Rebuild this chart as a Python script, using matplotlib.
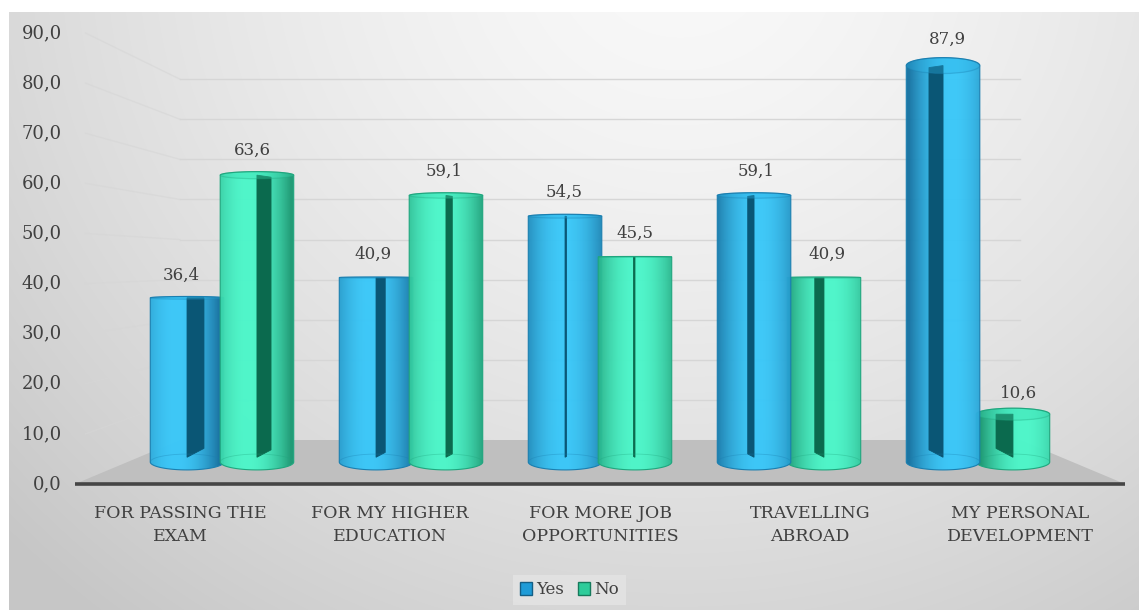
import numpy as np
import matplotlib
matplotlib.use('Agg')
import matplotlib.pyplot as plt
from matplotlib.patches import Polygon, Ellipse, Patch
from matplotlib.colors import to_rgb

# dados
categories = ['FOR PASSING THE\nEXAM', 'FOR MY HIGHER\nEDUCATION', 'FOR MORE JOB\nOPPORTUNITIES',
              'TRAVELLING\nABROAD', 'MY PERSONAL\nDEVELOPMENT']
yes = [36.4, 40.9, 54.5, 59.1, 87.9]
no = [63.6, 59.1, 45.5, 40.9, 10.6]
yticks = [0, 10, 20, 30, 40, 50, 60, 70, 80, 90]

plt.rcParams['font.family'] = ['DejaVu Serif']
TXT = '#404040'

# perspectiva simples
XV, YV = 2.5, 43.9      # ponto de fuga
D_BAR, D_BACK, D_LAB = 0.9, 0.8, 0.912
C = 0.04                # achatamento das elipses


def px(x, d):
    return XV + (x - XV) * d


def py(v, d):
    return YV + (v - YV) * d


fig = plt.figure(figsize=(11.39, 6.10), dpi=100)
ax = fig.add_axes([0, 0, 1, 1])
xlim = (-75 / 210, 1064 / 210)
ylim = (-126 / 5.011, 484 / 5.011)
ax.set_xlim(xlim)
ax.set_ylim(ylim)
ax.axis('off')

# fundo em degrade
H, W = 610, 1139
yy, xx = np.mgrid[0:H, 0:W]
r = np.sqrt(((xx - 680) / 700.0) ** 2 + ((yy + 50) / 650.0) ** 2)
g = np.clip(0.975 - 0.13 * r ** 1.5, 0.78, 1)
g[:12, :] = 1
g[:, :9] = 1
ax.imshow(np.dstack([g, g, g]), extent=(xlim[0], xlim[1], ylim[0], ylim[1]),
          aspect='auto', zorder=0, interpolation='bilinear')

# chao
floor = Polygon([(0, 0), (5, 0), (px(5, D_BACK), py(0, D_BACK)), (px(0, D_BACK), py(0, D_BACK))],
                closed=True, facecolor='#BFBFBF', edgecolor='none', zorder=1)
ax.add_patch(floor)

# grades
for t in yticks[1:]:
    yb = py(t, D_BACK)
    ax.plot([px(0, D_BACK), px(5, D_BACK)], [yb, yb], color='#D6D6D6', lw=1.0, zorder=1)
    ax.plot([px(0, D_BACK), 0.05], [yb, t], color='#D6D6D6', lw=1.0, alpha=0.6, zorder=1)

ax.plot([0, 5], [0, 0], color='#454545', lw=2.6, zorder=2, solid_capstyle='butt')

for t in yticks:
    ax.text(-0.062, t, f'{t:.1f}'.replace('.', ','), ha='right', va='center',
            fontsize=13, color=TXT)

for i, c in enumerate(categories):
    ax.text(i + 0.5, -4.1, c, ha='center', va='top', fontsize=12.5, color=TXT,
            linespacing=1.5)

BLUE = dict(light='#3AC8F9', dark='#1673A3', strip='#0A5675', edge='#1A7FB0', cap='#2DB3E6')
GREEN = dict(light='#4CF7CA', dark='#1C9A74', strip='#0B6A4E', edge='#1FA67E', cap='#3CDDB2')


def cylinder(xpre, val, pal, z):
    cx = px(xpre, D_BAR)
    dx = cx - XV
    w = 0.175
    y0 = py(0, D_BAR)
    y1 = py(val, D_BAR)
    b0 = C * abs(YV - y0)
    b1 = C * abs(YV - y1)
    t1 = np.linspace(np.pi, 2 * np.pi, 60)
    t2 = np.linspace(0, np.pi, 60)
    vx = np.concatenate([cx + w * np.cos(t1), cx + w * np.cos(t2)])
    vy = np.concatenate([y0 + b0 * np.sin(t1), y1 + b1 * np.sin(t2)])
    body = Polygon(np.column_stack([vx, vy]), closed=True, facecolor='none',
                   edgecolor=pal['edge'], lw=0.8, zorder=z + 0.3)
    ax.add_patch(body)

    # degrade horizontal
    tt = np.linspace(0, 1, 120)
    tp = 0.5 + 0.08 * dx
    gg = np.clip(1 - ((tt - tp) / 0.75) ** 2 * 1.6, 0, 1)
    lo, hi = np.array(to_rgb(pal['dark'])), np.array(to_rgb(pal['light']))
    img = lo[None, :] + (hi - lo)[None, :] * gg[:, None]
    im = ax.imshow(img[None, :, :], extent=(cx - w, cx + w, y0 - b0, y1 + b1),
                   aspect='auto', zorder=z, interpolation='bilinear', alpha=0.97)
    clip = Polygon(np.column_stack([vx, vy]), closed=True, transform=ax.transData)
    im.set_clip_path(clip)

    # faixa escura interna
    sw = -0.041 * dx
    xo = cx + sw
    yb_in = y0 + 0.6 * b0
    yb_out = yb_in + 22 * abs(sw)
    yt_out = y1 - (6 * abs(sw) if y1 > YV else 0)
    ax.add_patch(Polygon([(cx, y1), (xo, yt_out), (xo, yb_out), (cx, yb_in)], closed=True,
                         facecolor=pal['strip'], edgecolor=pal['strip'], lw=0.6,
                         zorder=z + 0.1))

    # tampa e base
    ax.add_patch(Ellipse((cx, y1), 2 * w, 2 * b1, facecolor=pal['cap'], alpha=0.35,
                         edgecolor=pal['edge'], lw=0.9, zorder=z + 0.2))
    tb = np.linspace(0, np.pi, 40)
    ax.plot(cx + w * np.cos(tb), y0 + b0 * np.sin(tb), color=pal['edge'], lw=0.6,
            alpha=0.35, zorder=z + 0.2)

    # rotulo
    ax.text(px(xpre, D_LAB), py(val, D_LAB) + 4.63, f'{val:.1f}'.replace('.', ','),
            ha='center', va='center', fontsize=12, color=TXT, zorder=20)


off = 0.185
items = []
for i in range(len(categories)):
    items.append((i + 0.5 - off, yes[i], BLUE))
    items.append((i + 0.5 + off, no[i], GREEN))
# desenha primeiro os mais distantes do centro
items.sort(key=lambda it: -abs(px(it[0], D_BAR) - XV))
for k, (xpre, val, pal) in enumerate(items):
    cylinder(xpre, val, pal, 3 + k)

handles = [Patch(facecolor='#1E9BD7', edgecolor='#145E85', label='Yes'),
           Patch(facecolor='#2ECC9A', edgecolor='#167A5C', label='No')]
leg = fig.legend(handles=handles, loc='center', bbox_to_anchor=(0.5, 0.033), ncol=2,
                 frameon=True, fancybox=False, fontsize=12, handlelength=0.75,
                 handleheight=0.75, handletextpad=0.25, columnspacing=0.8,
                 borderpad=0.4, labelcolor=TXT)
leg.get_frame().set_facecolor('#E4E4E4')
leg.get_frame().set_edgecolor('none')

plt.savefig('out.png', dpi=100)
